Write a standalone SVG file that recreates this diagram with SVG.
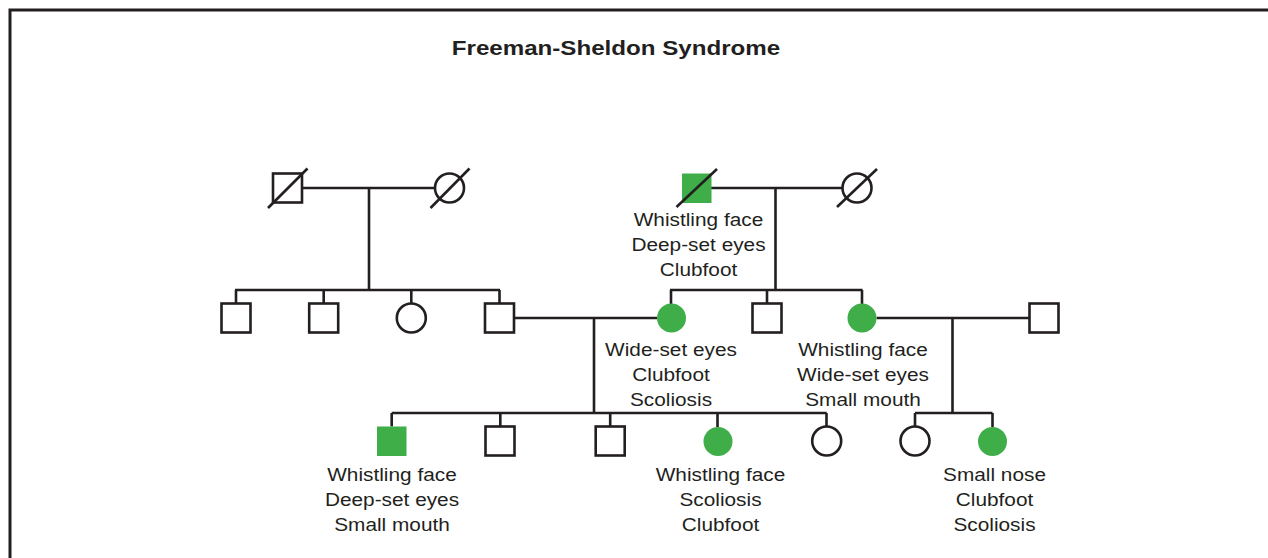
<svg xmlns="http://www.w3.org/2000/svg" width="1268" height="558" viewBox="0 0 1268 558">
<style>
.ln{stroke:#231f20;stroke-width:2.6;fill:none}
.m{fill:#fff;stroke:#231f20;stroke-width:2.6}
.a{fill:#3fae49;stroke:none}
.d{stroke:#231f20;stroke-width:2.6}
.t{font-family:"Liberation Sans",Arial,sans-serif;font-size:18.5px;fill:#231f20;text-anchor:middle}
.h{font-family:"Liberation Sans",Arial,sans-serif;font-size:21px;font-weight:bold;fill:#231f20;text-anchor:middle}
</style>
<rect width="1268" height="558" fill="#fff"/>
<path d="M10,560 V10 H1270" fill="none" stroke="#231f20" stroke-width="3"/>
<text class="h" transform="translate(616,55) scale(1.15,1)">Freeman-Sheldon Syndrome</text>
<g id="connectors">
<path class="ln" d="M302,188 H435 M369,188 V290 M235,290 H500 M236,290 V303.5 M323.7,290 V303.5 M411.3,290 V303.5 M499.5,290 V303.5"/>
<path class="ln" d="M711,188 H842.5 M775.5,188 V290 M670,290 H862.5 M671,290 V304 M767,290 V303.5 M862,290 V304"/>
<path class="ln" d="M514,318 H657 M594,318 V413 M391.7,413 H826.7 M391.7,413 V426.5 M500.3,413 V426.5 M610.2,413 V426.5 M717.5,413 V427 M826.5,413 V426.5"/>
<path class="ln" d="M876.5,318 H1029.5 M952.5,318 V413 M915,413 H992.5 M915,413 V426.5 M992.5,413 V427"/>
</g>
<g id="I-1"><rect class="m" x="273" y="173.5" width="29" height="29"/><line class="d" x1="268" y1="208" x2="307.5" y2="168.5"/></g>
<g id="I-2"><circle class="m" cx="449.5" cy="188" r="14.5"/><line class="d" x1="430.5" y1="208" x2="469.5" y2="168.5"/></g>
<g id="I-3"><rect class="a" x="682" y="173.5" width="29.5" height="29.5"/><line class="d" x1="676.5" y1="207" x2="717" y2="169"/>
<text class="t" transform="translate(698.5,226) scale(1.125,1)">Whistling face</text>
<text class="t" transform="translate(698.5,251) scale(1.125,1)">Deep-set eyes</text>
<text class="t" transform="translate(698.5,276) scale(1.125,1)">Clubfoot</text></g>
<g id="I-4"><circle class="m" cx="857" cy="188" r="14.5"/><line class="d" x1="837" y1="207" x2="877" y2="169"/></g>
<g id="II-1"><rect class="m" x="221.5" y="303.5" width="29" height="29"/></g>
<g id="II-2"><rect class="m" x="309.2" y="303.5" width="29" height="29"/></g>
<g id="II-3"><circle class="m" cx="411.3" cy="318" r="14.5"/></g>
<g id="II-4"><rect class="m" x="485" y="303.5" width="29" height="29"/></g>
<g id="II-5"><circle class="a" cx="671.5" cy="318" r="14.5"/>
<text class="t" transform="translate(671,356) scale(1.125,1)">Wide-set eyes</text>
<text class="t" transform="translate(671,381) scale(1.125,1)">Clubfoot</text>
<text class="t" transform="translate(671,406) scale(1.125,1)">Scoliosis</text></g>
<g id="II-6"><rect class="m" x="752.5" y="303.5" width="29" height="29"/></g>
<g id="II-7"><circle class="a" cx="862" cy="318" r="14.5"/>
<text class="t" transform="translate(863,356) scale(1.125,1)">Whistling face</text>
<text class="t" transform="translate(863,381) scale(1.125,1)">Wide-set eyes</text>
<text class="t" transform="translate(863,406) scale(1.125,1)">Small mouth</text></g>
<g id="II-8"><rect class="m" x="1029.5" y="303.5" width="29" height="29"/></g>
<g id="III-1"><rect class="a" x="377" y="426.5" width="29.5" height="29.5"/>
<text class="t" transform="translate(392,481) scale(1.125,1)">Whistling face</text>
<text class="t" transform="translate(392,506) scale(1.125,1)">Deep-set eyes</text>
<text class="t" transform="translate(392,531) scale(1.125,1)">Small mouth</text></g>
<g id="III-2"><rect class="m" x="485.5" y="426.5" width="29" height="29"/></g>
<g id="III-3"><rect class="m" x="595.7" y="426.5" width="29" height="29"/></g>
<g id="III-4"><circle class="a" cx="718" cy="441.5" r="14.5"/>
<text class="t" transform="translate(720.5,481) scale(1.125,1)">Whistling face</text>
<text class="t" transform="translate(720.5,506) scale(1.125,1)">Scoliosis</text>
<text class="t" transform="translate(720.5,531) scale(1.125,1)">Clubfoot</text></g>
<g id="III-5"><circle class="m" cx="826.7" cy="441" r="14.5"/></g>
<g id="III-6"><circle class="m" cx="915" cy="441" r="14.5"/></g>
<g id="III-7"><circle class="a" cx="992.5" cy="441.5" r="14.5"/>
<text class="t" transform="translate(994.5,481) scale(1.125,1)">Small nose</text>
<text class="t" transform="translate(994.5,506) scale(1.125,1)">Clubfoot</text>
<text class="t" transform="translate(994.5,531) scale(1.125,1)">Scoliosis</text></g>
</svg>
